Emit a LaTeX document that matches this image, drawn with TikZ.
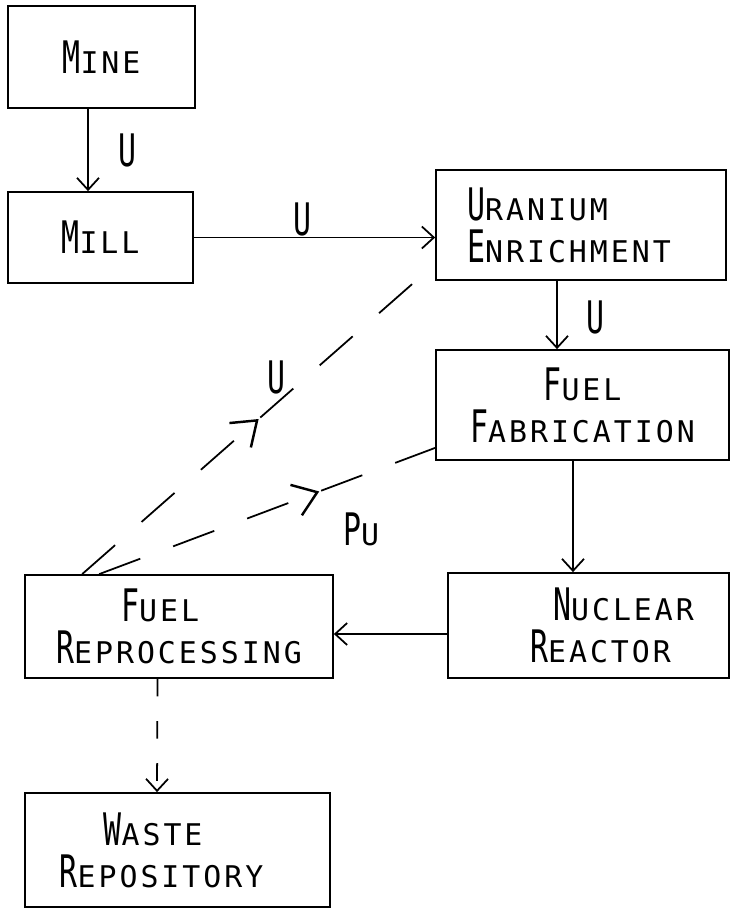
\documentclass[tikz,border=0pt]{standalone}
\usepackage{fontspec}
\usepackage{graphicx}
\newfontfamily\plotfont[LetterSpace=10]{DejaVu Sans Mono}
\usetikzlibrary{arrows.meta,decorations.markings}
\newcommand{\tall}[1]{\scalebox{1}[1.5]{#1}}

\begin{document}
\begin{tikzpicture}[x=0.02cm,y=-0.02cm,line width=1pt,
    >={Straight Barb[length=2.4mm,width=4.4mm]},
    blk/.style={draw,inner sep=0pt,font=\plotfont\fontsize{17}{24}\selectfont},
    lbl/.style={inner sep=0pt,font=\plotfont\fontsize{17}{24}\selectfont},
    back/.style={dash pattern=on 25pt off 20pt},
    midarr/.style={postaction={decorate},decoration={markings,
      mark=at position #1 with {\pgfsetdash{}{0pt}\pgfsetlinewidth{1.4pt}%
        \arrow{Straight Barb[length=4.5mm,width=6.5mm]}}}}]
  \useasboundingbox (0,0) rectangle (731,913);
  % boxes, left column
  \node[blk,minimum width=3.74cm,minimum height=2.04cm] (mine) at (101.5,57) {\tall{M}INE};
  \node[blk,minimum width=3.70cm,minimum height=1.82cm] (mill) at (100.5,237.5) {\tall{M}ILL};
  \node[blk,align=left,minimum width=6.16cm,minimum height=2.06cm] (reproc) at (179,626.5)
    {\hspace*{1.3cm}\tall{F}UEL\\\tall{R}EPROCESSING};
  \node[blk,align=left,minimum width=6.10cm,minimum height=2.28cm] (waste) at (177.5,850)
    {\hspace*{0.88cm}\tall{W}ASTE\\\tall{R}EPOSITORY\hspace*{0.64cm}};
  % boxes, right column
  \node[blk,align=left,minimum width=5.80cm,minimum height=2.20cm] (enrich) at (581,225)
    {\tall{U}RANIUM\\\tall{E}NRICHMENT\hspace*{0.48cm}};
  \node[blk,align=center,minimum width=5.86cm,minimum height=2.20cm] (fab) at (582.5,405)
    {\tall{F}UEL\\\tall{F}ABRICATION};
  \node[blk,align=left,minimum width=5.62cm,minimum height=2.10cm] (reactor) at (588.5,625.5)
    {\hspace*{1.4cm}\tall{N}UCLEAR\\\hspace*{0.94cm}\tall{R}EACTOR};
  % flows
  \draw[->] ([xshift=-0.27cm]mine.south) -- ([xshift=-0.25cm]mill.north)
    node[lbl,pos=0.5,right=0.6cm] {\tall{U}};
  \draw[->] (mill.east) -- (mill.east -| enrich.west)
    node[lbl,pos=0.45,above=0pt] {\tall{U}};
  \draw[->] ([xshift=-0.48cm]enrich.south) -- ([xshift=-0.51cm]fab.north)
    node[lbl,pos=0.53,right=0.58cm] {\tall{U}};
  \draw[->] ([xshift=-0.19cm]fab.south) -- ([xshift=-0.31cm]reactor.north);
  \draw[->] ([yshift=-0.17cm]reactor.west) -- ([yshift=-0.15cm]reproc.east);
  \draw[->,dash pattern=on 10pt off 14pt] ([xshift=-0.43cm]reproc.south) -- ([xshift=-0.41cm]waste.north);
  % recycled material
  \draw[back,midarr=0.5] ([xshift=1.16cm]reproc.north west) -- ([yshift=0.34cm]enrich.south west)
    node[lbl,pos=0.55,above=0.17cm] {\tall{U}};
  \draw[back,midarr=0.655] ([xshift=1.5cm]reproc.north west) -- ([yshift=0.26cm]fab.south west)
    node[lbl,pos=0.78,below=0.73cm] {\tall{P}U};
\end{tikzpicture}
\end{document}
